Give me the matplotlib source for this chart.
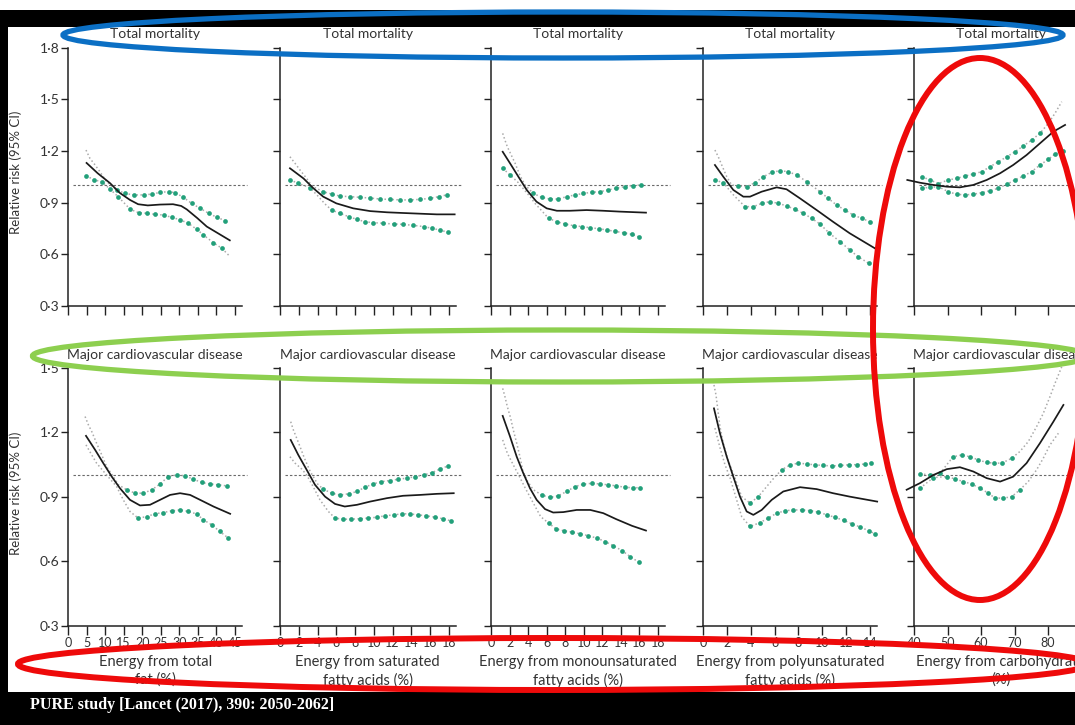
import matplotlib
matplotlib.use("Agg")
import matplotlib.pyplot as plt
from matplotlib.patches import Ellipse, Rectangle
import numpy as np

plt.rcParams['font.family'] = ['Lato', 'DejaVu Sans']

# ---- data (RR and 95% CI bounds) ----
# row 1: total mortality
tm_fat_x = [5, 8, 11.3, 14, 16.7, 18.9, 21.5, 24.8, 28.3, 30.5, 32, 34.8, 37.4, 40.5, 43.6]
tm_fat_rr = [1.13, 1.07, 1.013, 0.955, 0.915, 0.89, 0.883, 0.888, 0.89, 0.88, 0.86, 0.81, 0.76, 0.72, 0.68]
tm_fat_up_x = [4.85, 5.9, 7.3, 8.6, 10.4, 13.1, 15.4, 17.7, 20.4, 22.6, 24.9, 27.1, 28.9, 31.1, 33.3, 35.6, 37.9, 40.1, 42.4]
tm_fat_up = [1.205, 1.157, 1.118, 1.079, 1.021, 0.973, 0.953, 0.944, 0.944, 0.949, 0.959, 0.963, 0.957, 0.93, 0.895, 0.866, 0.837, 0.814, 0.794]
tm_fat_lo_x = [4.85, 7.1, 9.1, 11.2, 13.5, 16.8, 19.0, 21.2, 23.5, 25.8, 27.9, 30.2, 32.4, 34.7, 36.5, 39.2, 41.5, 43.5]
tm_fat_lo = [1.056, 1.031, 1.021, 0.98, 0.934, 0.86, 0.841, 0.837, 0.831, 0.827, 0.814, 0.80, 0.779, 0.744, 0.711, 0.666, 0.633, 0.589]

tm_sfa_x = [1.06, 2.5, 3.55, 4.6, 6.0, 7.8, 9.6, 11.4, 13.1, 14.9, 16.7, 18.6]
tm_sfa_rr = [1.099, 1.04, 0.983, 0.934, 0.895, 0.866, 0.85, 0.843, 0.839, 0.835, 0.831, 0.831]
tm_sfa_up_x = [1.06, 1.6, 2.13, 2.84, 3.4, 4.6, 5.5, 6.4, 7.45, 8.5, 9.6, 10.65, 11.7, 12.8, 13.8, 14.9, 16.0, 16.9, 17.75]
tm_sfa_up = [1.166, 1.128, 1.089, 1.04, 0.995, 0.963, 0.949, 0.937, 0.934, 0.93, 0.926, 0.92, 0.918, 0.915, 0.915, 0.918, 0.924, 0.934, 0.944]
tm_sfa_lo_x = [1.06, 1.95, 3.2, 4.0, 4.8, 5.5, 6.4, 7.3, 8.2, 9.05, 9.9, 11.0, 12.1, 13.1, 14.2, 15.3, 16.2, 17.0, 17.9]
tm_sfa_lo = [1.031, 1.012, 0.985, 0.94, 0.891, 0.856, 0.837, 0.818, 0.802, 0.788, 0.783, 0.779, 0.775, 0.773, 0.767, 0.76, 0.75, 0.74, 0.727]

tm_mufa_x = [1.26, 2.05, 2.95, 3.85, 4.9, 6.0, 7.1, 8.5, 10.3, 12.1, 13.9, 16.7]
tm_mufa_rr = [1.195, 1.128, 1.05, 0.973, 0.905, 0.866, 0.852, 0.852, 0.856, 0.852, 0.847, 0.841]
tm_mufa_up_x = [1.26, 1.5, 1.76, 2.6, 3.1, 3.66, 4.56, 5.46, 6.36, 7.25, 8.15, 9.05, 9.95, 10.85, 11.75, 12.6, 13.5, 14.4, 15.3, 16.2]
tm_mufa_up = [1.302, 1.263, 1.224, 1.128, 1.06, 1.002, 0.953, 0.93, 0.92, 0.92, 0.934, 0.944, 0.953, 0.959, 0.963, 0.973, 0.983, 0.992, 0.998, 1.002]
tm_mufa_lo_x = [1.26, 2.05, 2.95, 4.2, 4.74, 5.5, 6.2, 7.1, 8.0, 8.9, 9.8, 10.7, 11.6, 12.5, 13.4, 14.3, 15.2, 15.9]
tm_mufa_lo = [1.099, 1.06, 1.015, 0.934, 0.895, 0.85, 0.808, 0.788, 0.775, 0.765, 0.76, 0.753, 0.748, 0.74, 0.732, 0.724, 0.715, 0.701]

tm_pufa_x = [1.0, 1.7, 2.54, 3.38, 3.94, 4.92, 6.18, 7.0, 8.13, 9.53, 10.9, 12.3, 14.4]
tm_pufa_rr = [1.118, 1.05, 0.973, 0.934, 0.934, 0.963, 0.988, 0.977, 0.924, 0.856, 0.788, 0.721, 0.634]
tm_pufa_up_x = [1.0, 1.28, 1.57, 1.99, 2.4, 2.96, 3.66, 4.36, 5.06, 5.75, 6.45, 7.15, 7.85, 8.7, 9.8, 10.5, 11.2, 11.9, 12.6, 13.3, 14.0]
tm_pufa_up = [1.205, 1.166, 1.118, 1.05, 1.002, 0.996, 0.992, 1.015, 1.05, 1.075, 1.085, 1.079, 1.06, 1.021, 0.963, 0.924, 0.885, 0.856, 0.827, 0.808, 0.788]
tm_pufa_lo_x = [1.0, 1.7, 2.6, 3.52, 4.22, 4.92, 5.62, 6.31, 7.02, 7.71, 8.41, 9.11, 9.8, 10.6, 11.5, 12.3, 13.0, 13.9]
tm_pufa_lo = [1.031, 1.015, 0.94, 0.876, 0.876, 0.895, 0.905, 0.895, 0.88, 0.86, 0.837, 0.808, 0.775, 0.721, 0.672, 0.624, 0.585, 0.546]

tm_carb_x = [38.0, 41.8, 45.8, 49.8, 53.7, 57.7, 61.7, 65.7, 69.6, 73.6, 77.6, 81.6, 85.1]
tm_carb_rr = [1.031, 1.015, 1.002, 0.992, 0.988, 1.002, 1.031, 1.07, 1.118, 1.176, 1.244, 1.312, 1.351]
tm_carb_up_x = [42.3, 44.8, 47.3, 50.2, 52.7, 55.2, 57.7, 60.2, 62.7, 65.2, 67.7, 70.1, 72.6, 75.1, 77.6, 80.1, 82.1, 84.1]
tm_carb_up = [1.05, 1.031, 1.01, 1.031, 1.04, 1.054, 1.066, 1.079, 1.108, 1.137, 1.166, 1.195, 1.228, 1.263, 1.302, 1.36, 1.419, 1.486]
tm_carb_lo_x = [42.3, 44.8, 47.3, 50.2, 52.7, 55.2, 57.7, 60.2, 62.7, 65.2, 67.7, 70.1, 72.6, 75.1, 77.6, 80.1, 82.1, 84.6]
tm_carb_lo = [0.983, 0.988, 0.992, 0.963, 0.948, 0.944, 0.948, 0.957, 0.969, 0.983, 1.006, 1.031, 1.054, 1.079, 1.118, 1.151, 1.182, 1.201]

# row 2: major cardiovascular disease
cvd_fat_x = [4.85, 7.3, 9.5, 11.8, 14.0, 16.7, 19.4, 22.1, 24.8, 27.5, 30.2, 32.9, 35.6, 39.2, 43.7]
cvd_fat_rr = [1.184, 1.119, 1.057, 0.994, 0.94, 0.886, 0.86, 0.863, 0.886, 0.909, 0.917, 0.909, 0.886, 0.855, 0.821]
cvd_fat_up_x = [4.6, 5.5, 6.4, 7.7, 9.1, 10.4, 12.2, 13.6, 15.8, 18.1, 20.3, 22.6, 24.8, 27.0, 29.3, 31.5, 33.8, 36.0, 38.3, 40.5, 42.8]
cvd_fat_up = [1.274, 1.235, 1.204, 1.15, 1.095, 1.041, 0.994, 0.956, 0.933, 0.917, 0.917, 0.933, 0.96, 0.994, 1.002, 0.998, 0.982, 0.967, 0.96, 0.956, 0.951]
cvd_fat_lo_x = [4.85, 6.4, 7.7, 10.0, 13.1, 14.9, 16.7, 18.9, 21.2, 23.4, 25.7, 27.9, 30.2, 32.4, 34.7, 36.5, 38.7, 40.9, 43.2]
cvd_fat_lo = [1.142, 1.095, 1.057, 1.01, 0.948, 0.886, 0.832, 0.801, 0.808, 0.821, 0.827, 0.835, 0.839, 0.832, 0.82, 0.793, 0.77, 0.739, 0.708]

cvd_sfa_x = [1.14, 1.95, 2.84, 3.73, 4.8, 5.86, 6.9, 8.2, 9.6, 11.4, 13.1, 14.9, 16.7, 18.5]
cvd_sfa_rr = [1.165, 1.095, 1.026, 0.956, 0.901, 0.867, 0.855, 0.863, 0.878, 0.894, 0.905, 0.909, 0.914, 0.917]
cvd_sfa_up_x = [1.14, 1.42, 1.78, 2.13, 2.6, 3.2, 4.0, 4.6, 5.5, 6.4, 7.3, 8.2, 9.05, 9.9, 10.8, 11.7, 12.6, 13.5, 14.4, 15.3, 16.2, 17.0, 17.9]
cvd_sfa_up = [1.25, 1.212, 1.173, 1.134, 1.08, 1.02, 0.96, 0.936, 0.917, 0.909, 0.914, 0.925, 0.945, 0.96, 0.971, 0.976, 0.982, 0.987, 0.994, 1.002, 1.013, 1.029, 1.044]
cvd_sfa_lo_x = [1.06, 1.6, 2.3, 2.84, 3.5, 4.26, 5.15, 5.86, 6.74, 7.6, 8.5, 9.4, 10.3, 11.2, 12.1, 13.0, 13.8, 14.7, 15.6, 16.5, 17.4, 18.2]
cvd_sfa_lo = [1.087, 1.057, 1.03, 1.002, 0.95, 0.886, 0.832, 0.801, 0.796, 0.796, 0.798, 0.801, 0.805, 0.812, 0.816, 0.821, 0.821, 0.816, 0.812, 0.805, 0.798, 0.788]

cvd_mufa_x = [1.26, 2.05, 2.77, 3.48, 4.2, 4.92, 5.82, 6.7, 7.8, 9.23, 10.7, 12.1, 13.5, 15.2, 16.7]
cvd_mufa_rr = [1.277, 1.181, 1.087, 1.01, 0.94, 0.886, 0.843, 0.827, 0.829, 0.839, 0.839, 0.824, 0.796, 0.765, 0.743]
cvd_mufa_up_x = [1.26, 1.5, 1.76, 2.12, 2.4, 2.77, 3.12, 3.4, 3.9, 4.56, 5.46, 6.36, 7.25, 8.15, 9.05, 9.95, 10.85, 11.75, 12.6, 13.5, 14.4, 15.3, 16.1]
cvd_mufa_up = [1.405, 1.367, 1.32, 1.266, 1.212, 1.15, 1.087, 1.026, 0.975, 0.933, 0.909, 0.897, 0.905, 0.925, 0.948, 0.959, 0.963, 0.96, 0.956, 0.951, 0.945, 0.942, 0.943]
cvd_mufa_lo_x = [1.26, 1.76, 2.4, 3.0, 3.7, 4.56, 5.35, 6.2, 7.0, 7.87, 8.7, 9.6, 10.5, 11.4, 12.3, 13.2, 14.1, 15.0, 15.9]
cvd_mufa_lo = [1.165, 1.103, 1.049, 1.0, 0.94, 0.871, 0.808, 0.778, 0.751, 0.742, 0.736, 0.728, 0.719, 0.708, 0.692, 0.672, 0.65, 0.622, 0.596]

cvd_pufa_x = [0.92, 1.42, 1.99, 2.54, 3.1, 3.66, 4.22, 4.92, 5.76, 6.73, 8.13, 9.53, 10.9, 12.3, 14.6]
cvd_pufa_rr = [1.312, 1.196, 1.087, 0.994, 0.901, 0.832, 0.816, 0.839, 0.886, 0.925, 0.945, 0.936, 0.917, 0.901, 0.878]
cvd_pufa_up_x = [0.92, 1.09, 1.42, 1.7, 2.1, 2.6, 3.24, 3.94, 4.64, 5.34, 6.04, 6.6, 7.3, 8.0, 8.7, 9.4, 10.1, 10.8, 11.5, 12.2, 12.9, 13.6, 14.1]
cvd_pufa_up = [1.421, 1.374, 1.227, 1.15, 1.07, 1.0, 0.901, 0.871, 0.901, 0.948, 0.994, 1.026, 1.049, 1.057, 1.053, 1.049, 1.046, 1.044, 1.046, 1.049, 1.05, 1.053, 1.057]
cvd_pufa_lo_x = [1.0, 1.42, 1.84, 2.26, 2.82, 3.24, 3.94, 4.78, 5.47, 6.18, 6.87, 7.57, 8.27, 8.97, 9.66, 10.4, 11.1, 11.8, 12.5, 13.2, 13.9, 14.4]
cvd_pufa_lo = [1.22, 1.13, 1.05, 0.99, 0.886, 0.808, 0.762, 0.78, 0.801, 0.824, 0.835, 0.839, 0.839, 0.836, 0.829, 0.816, 0.804, 0.79, 0.774, 0.759, 0.742, 0.728]

cvd_carb_x = [37.8, 41.8, 45.8, 49.8, 53.7, 57.7, 61.7, 65.7, 69.6, 73.6, 77.6, 81.6, 84.6]
cvd_carb_rr = [0.933, 0.964, 1.002, 1.029, 1.038, 1.018, 0.987, 0.971, 0.994, 1.057, 1.15, 1.25, 1.328]
cvd_carb_up_x = [41.8, 44.8, 47.8, 49.8, 51.7, 54.2, 56.7, 59.2, 61.7, 64.0, 66.2, 69.2, 71.6, 74.1, 76.6, 78.6, 80.6, 82.1, 84.1]
cvd_carb_up = [1.007, 1.002, 1.01, 1.05, 1.087, 1.095, 1.087, 1.072, 1.06, 1.057, 1.057, 1.08, 1.111, 1.157, 1.227, 1.289, 1.367, 1.429, 1.506]
cvd_carb_lo_x = [41.8, 45.8, 49.8, 52.2, 54.7, 57.2, 59.7, 62.2, 64.2, 66.7, 69.2, 71.6, 74.1, 76.6, 78.6, 80.6, 83.1]
cvd_carb_lo = [0.94, 0.99, 0.994, 0.984, 0.971, 0.96, 0.94, 0.917, 0.894, 0.894, 0.901, 0.933, 0.971, 1.026, 1.08, 1.142, 1.196]

row_titles = ["Total mortality", "Major cardiovascular disease"]
x_labels = ["Energy from total\nfat (%)", "Energy from saturated\nfatty acids (%)",
            "Energy from monounsaturated\nfatty acids (%)", "Energy from polyunsaturated\nfatty acids (%)",
            "Energy from carbohydrate\n(%)"]
x_ticks = [list(range(0, 50, 5)), list(range(0, 20, 2)), list(range(0, 20, 2)),
           list(range(0, 16, 2)), list(range(40, 100, 10))]
y_ticks_top = [0.3, 0.6, 0.9, 1.2, 1.5, 1.8]
y_ticks_bottom = [0.3, 0.6, 0.9, 1.2, 1.5]
source = "PURE study [Lancet (2017), 390: 2050-2062]"

panels = [
    [(tm_fat_x, tm_fat_rr, tm_fat_up_x, tm_fat_up, tm_fat_lo_x, tm_fat_lo),
     (tm_sfa_x, tm_sfa_rr, tm_sfa_up_x, tm_sfa_up, tm_sfa_lo_x, tm_sfa_lo),
     (tm_mufa_x, tm_mufa_rr, tm_mufa_up_x, tm_mufa_up, tm_mufa_lo_x, tm_mufa_lo),
     (tm_pufa_x, tm_pufa_rr, tm_pufa_up_x, tm_pufa_up, tm_pufa_lo_x, tm_pufa_lo),
     (tm_carb_x, tm_carb_rr, tm_carb_up_x, tm_carb_up, tm_carb_lo_x, tm_carb_lo)],
    [(cvd_fat_x, cvd_fat_rr, cvd_fat_up_x, cvd_fat_up, cvd_fat_lo_x, cvd_fat_lo),
     (cvd_sfa_x, cvd_sfa_rr, cvd_sfa_up_x, cvd_sfa_up, cvd_sfa_lo_x, cvd_sfa_lo),
     (cvd_mufa_x, cvd_mufa_rr, cvd_mufa_up_x, cvd_mufa_up, cvd_mufa_lo_x, cvd_mufa_lo),
     (cvd_pufa_x, cvd_pufa_rr, cvd_pufa_up_x, cvd_pufa_up, cvd_pufa_lo_x, cvd_pufa_lo),
     (cvd_carb_x, cvd_carb_rr, cvd_carb_up_x, cvd_carb_up, cvd_carb_lo_x, cvd_carb_lo)],
]

# ---- layout in pixels ----
W, H = 1075, 725
col_left = [68, 280, 491, 703, 914]
col_ppu = [3.711, 9.39, 9.28, 11.93, 3.35]
col_xlim = [(0, 47), (0, 18.7), (0, 18.75), (0, 14.6), (40, 92)]
row_top = [47.7, 368]
row_bottom = [305.7, 625.7]
row_ylim = [(0.3, 1.8), (0.3, 1.5)]

TXT = '#333333'
GREEN = '#22a07a'
GREY = '#aaaaaa'

fig = plt.figure(figsize=(W / 100, H / 100), dpi=100)
fig.patch.set_facecolor('white')


def fmt(v):
    return ('%.1f' % v).replace('.', '\u00b7')


for r in range(2):
    yscale = (row_bottom[r] - row_top[r]) / (row_ylim[r][1] - row_ylim[r][0])
    for c in range(5):
        x0, x1 = col_xlim[c]
        wpx = (x1 - x0) * col_ppu[c]
        ax = fig.add_axes([col_left[c] / W, 1 - row_bottom[r] / H, wpx / W,
                           (row_bottom[r] - row_top[r]) / H])
        ax.set_xlim(x0, x1)
        ax.set_ylim(*row_ylim[r])
        ax.patch.set_alpha(0)
        for s in ('top', 'right'):
            ax.spines[s].set_visible(False)
        for s in ('left', 'bottom'):
            ax.spines[s].set_linewidth(1.1)
            ax.spines[s].set_color('#222222')
        yt = y_ticks_top if r == 0 else y_ticks_bottom
        ax.set_yticks(yt)
        ax.set_xticks(x_ticks[c])
        if c == 0:
            ax.set_yticklabels([fmt(v) for v in yt])
        else:
            ax.set_yticklabels([])
        if r == 1:
            ax.set_xticklabels([str(v) for v in x_ticks[c]])
        else:
            ax.set_xticklabels([])
        ax.tick_params(axis='y', direction='out', length=5, width=1.0, color='#222222',
                       labelsize=10, labelcolor=TXT, pad=1)
        ax.tick_params(axis='x', direction='out', length=6.5, width=1.0, color='#222222',
                       labelsize=9, labelcolor=TXT, pad=1.5)

        rx, ry, ux, uy, lx, ly = panels[r][c]
        # reference line at RR = 1
        ax.plot([x0 + 5 / col_ppu[c], x1 + 5 / col_ppu[c]], [1, 1], ls=(0, (2.2, 1.8)),
                color='#6a6a6a', lw=0.8, clip_on=False, zorder=1)
        for cx, cy in ((ux, uy), (lx, ly)):
            cx = np.asarray(cx, float)
            cy = np.asarray(cy, float)
            ax.plot(cx, cy, ls=(0, (1, 1.6)), color=GREY, lw=1.1, zorder=2, clip_on=False)
            slope = np.abs(np.gradient(cy * yscale, cx * col_ppu[c]))
            g = slope < 1.0
            ax.plot(cx[g], cy[g], 'o', ms=3.4, color=GREEN, mec='none', zorder=3, clip_on=False)
        ax.plot(rx, ry, color='#1a1a1a', lw=1.25, zorder=4, clip_on=False)

        cx_px = col_left[c] + wpx / 2
        fig.text(cx_px / W, 1 - (row_top[r] - 13.5) / H, row_titles[r], ha='center',
                 va='center', fontsize=10, color=TXT)
        if r == 1:
            fig.text(cx_px / W, 1 - 655 / H, x_labels[c], ha='center', va='top',
                     fontsize=10.5, color=TXT, linespacing=1.3)

for r in range(2):
    fig.text(16 / W, 1 - ((row_top[r] + row_bottom[r]) / 2 - 4) / H, 'Relative risk (95% CI)',
             rotation=90, ha='center', va='center', fontsize=9.5, color=TXT)

# ---- slide frame and hand-drawn highlights ----
ov = fig.add_axes([0, 0, 1, 1], zorder=10)
ov.set_xlim(0, W)
ov.set_ylim(H, 0)
ov.axis('off')
ov.patch.set_alpha(0)
for rect in [(0, 10, W, 17), (0, 10, 8, H - 10), (0, 692, W, H - 692)]:
    ov.add_patch(Rectangle(rect[:2], rect[2], rect[3], color='black', lw=0, zorder=1))
ov.text(30, 705, source, color='white', fontsize=11.5, fontweight='bold',
        family=['Liberation Serif', 'DejaVu Serif'], ha='left', va='center', zorder=2)

ov.add_patch(Ellipse((563, 35), 1000, 46, fill=False, ec='#0b6fc4', lw=3.8, zorder=3))
ov.add_patch(Ellipse((560, 356), 1055, 52, fill=False, ec='#8dcf4f', lw=3.8, zorder=3))
ov.add_patch(Ellipse((980, 329), 214, 542, fill=False, ec='#ee0a0a', lw=4.3, zorder=4))
ov.add_patch(Ellipse((553, 664), 1070, 52, fill=False, ec='#ee0a0a', lw=4.3, zorder=4))

fig.savefig('out.png', dpi=100)
